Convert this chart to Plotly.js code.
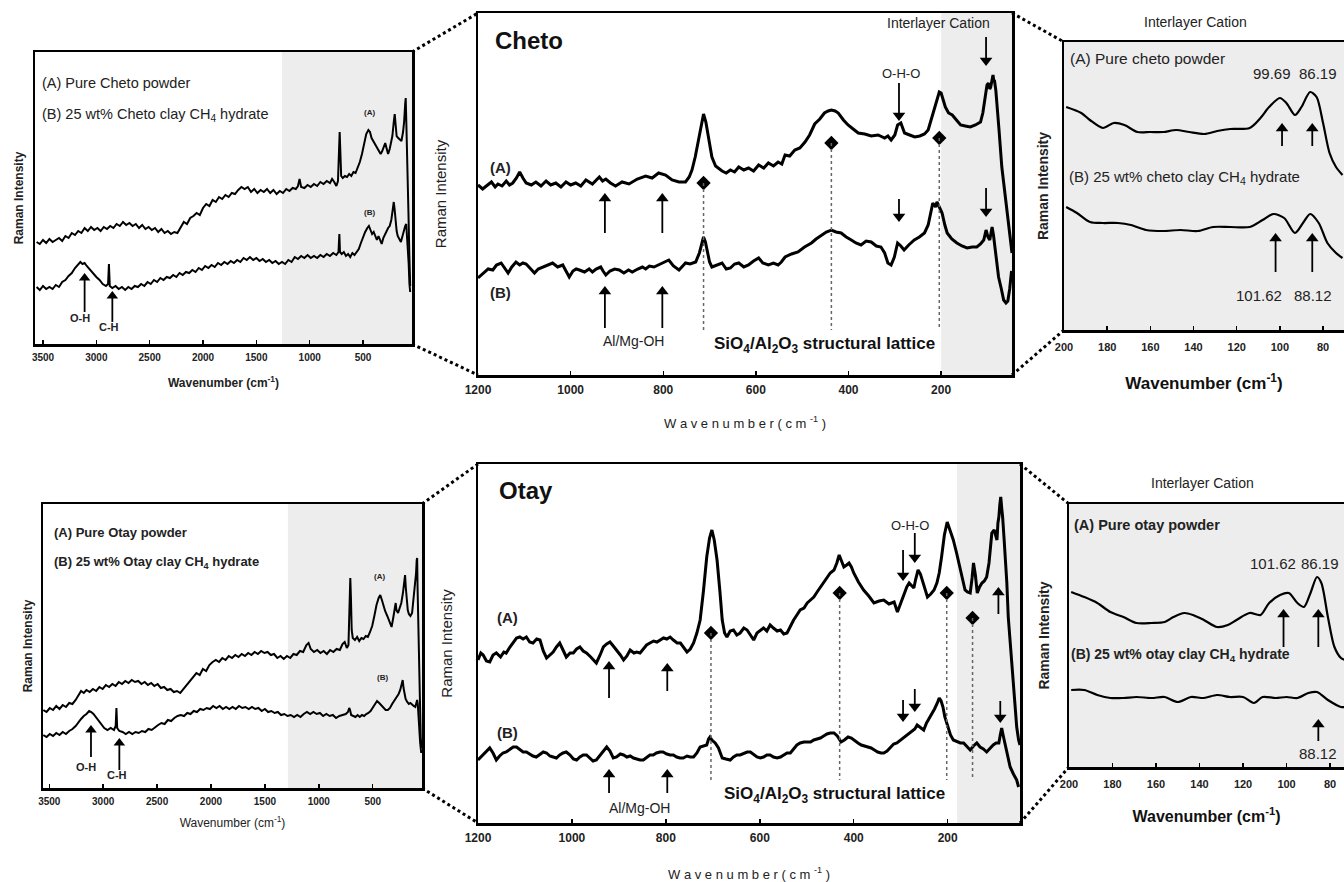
<!DOCTYPE html>
<html><head><meta charset="utf-8">
<script src="https://cdn.plot.ly/plotly-3.0.1.min.js"></script>
<style>html,body{margin:0;padding:0;background:#fff}#chart{width:1344px;height:882px}</style>
</head><body><div id="chart"></div>
<script>
// ================= DATA (wavenumber cm-1 / Raman intensity, arbitrary units) =================
// Panel 1: Cheto full range
const P1_A_X = [3560,3530,3500,3470,3440,3410,3380,3350,3320,3290,3260,3230,3200,3170,3140,3110,3080,3050,3020,2990,2960,2930,2900,2870,2840,2810,2780,2750,2720,2690,2660,2630,2600,2570,2540,2510,2480,2450,2420,2390,2360,2330,2300,2270,2240,2210,2180,2150,2120,2090,2060,2030,2000,1970,1940,1910,1880,1850,1820,1790,1760,1730,1700,1670,1640,1610,1580,1550,1520,1490,1460,1430,1400,1370,1340,1310,1280,1250,1220,1190,1160,1130,1110,1095,1080,1050,1020,990,960,930,900,870,840,810,790,770,750,735,725,719,712,705,690,670,650,630,610,590,570,550,530,510,490,470,450,435,420,400,385,370,350,335,320,305,292,280,265,250,238,225,212,203,195,185,170,155,140,125,115,105,100,95,90,82,74,66,58];
const P1_A_Y = [102,100,104,101,105,102,104,106,103,108,106,111,109,113,111,116,113,117,114,116,113,117,115,118,116,120,118,122,119,121,118,120,116,119,115,117,114,116,112,115,111,113,110,112,111,117,122,120,126,128,131,129,136,140,138,144,142,147,145,149,147,151,150,154,157,155,157,152,155,151,154,152,155,151,154,150,153,151,155,153,156,155,158,165,157,156,159,157,160,158,162,160,163,161,165,162,158,163,185,212,190,168,166,168,167,170,168,172,171,176,182,190,202,210,214,212,206,202,199,197,192,190,193,197,201,196,190,195,203,208,222,230,220,208,206,204,203,212,222,240,246,225,206,180,130,90,58];
const P1_B_X = [3560,3530,3500,3470,3440,3410,3380,3350,3320,3290,3260,3230,3200,3170,3150,3130,3110,3090,3060,3030,3000,2970,2940,2910,2890,2882,2874,2850,2820,2790,2760,2730,2700,2670,2640,2610,2580,2550,2520,2490,2460,2430,2400,2370,2340,2310,2280,2250,2220,2190,2160,2130,2100,2070,2040,2010,1980,1950,1920,1890,1860,1830,1800,1770,1740,1710,1680,1650,1620,1590,1560,1530,1500,1470,1440,1410,1380,1350,1320,1290,1260,1230,1200,1170,1140,1110,1080,1050,1020,990,960,930,900,870,840,810,780,750,730,722,716,700,680,660,640,620,600,580,560,540,520,500,480,460,445,430,415,400,385,370,355,340,325,310,295,280,265,250,235,222,212,205,195,185,175,160,145,130,118,105,95,88,80,72,65,58];
const P1_B_Y = [57,54,58,55,57,55,59,57,62,64,68,71,76,79,82,80,81,78,74,70,67,64,60,58,60,80,58,56,58,55,57,54,57,55,58,57,60,58,62,60,64,62,66,64,67,66,69,67,71,69,72,71,74,72,76,74,78,76,79,77,81,79,82,80,83,81,84,82,86,84,87,84,86,83,85,82,84,81,83,80,82,80,84,82,87,85,88,86,89,86,88,86,89,87,90,88,91,89,92,110,92,90,92,88,90,87,91,89,92,95,101,107,112,116,118,114,110,112,107,104,108,103,100,106,110,114,116,118,124,134,142,136,120,113,108,105,102,108,114,118,120,110,100,80,60,52];

// Panel 2: Cheto 1200-50 cm-1
const P2_A_X = [1200,1190,1182,1171,1163,1157,1148,1139,1132,1125,1117,1110,1103,1096,1085,1075,1064,1053,1043,1032,1021,1010,1000,989,978,967,953,938,931,924,914,903,889,874,856,838,824,810,795,781,766,752,744,738,731,724,718,713,708,702,695,687,680,673,664,655,646,637,626,616,605,594,583,573,562,552,544,537,527,516,505,494,484,473,462,452,444,437,429,422,411,401,390,379,365,351,336,322,315,308,300,294,287,279,268,257,246,236,228,218,210,204,200,196,191,184,176,167,158,148,137,126,115,110,105,101,98,95,93,90,88,86,85,82,80,75,69,63,58,54,50,47];
const P2_A_Y = [190,186,189,193,188,191,189,194,190,192,197,203,197,192,190,193,189,194,190,192,188,193,190,192,189,195,191,198,194,196,192,189,193,191,196,199,197,202,200,195,193,193,198,205,218,236,252,261,253,236,218,209,206,204,202,205,203,208,205,207,204,210,207,212,209,213,211,220,219,225,227,233,240,251,256,262,264,265,264,262,255,250,246,242,241,239,240,237,239,235,240,250,252,242,240,238,239,241,245,262,275,283,282,275,268,262,260,255,250,249,248,250,253,262,280,290,292,286,288,296,300,293,295,285,275,245,208,185,160,145,130,122];
const P2_B_X = [1200,1193,1186,1178,1168,1160,1150,1142,1135,1127,1118,1110,1103,1096,1087,1078,1070,1060,1050,1039,1028,1017,1010,1003,995,988,981,970,960,953,945,935,930,924,915,905,895,885,875,867,855,845,838,830,820,810,800,788,778,766,758,752,742,730,722,716,713,709,705,700,695,685,673,664,655,646,637,626,616,605,594,585,573,562,552,545,537,523,509,495,480,470,458,448,437,427,416,405,394,384,373,362,351,340,330,322,315,308,301,294,287,280,270,258,247,236,228,218,212,209,204,198,192,187,177,166,155,144,133,123,115,108,103,99,95,92,90,87,84,80,76,70,65,60,56,52,48];
const P2_B_Y = [97,100,103,106,105,110,112,106,102,108,113,110,112,111,106,102,106,108,110,112,108,110,104,98,104,106,105,103,106,103,106,108,104,100,104,106,105,102,105,103,106,108,106,109,108,110,112,115,109,105,109,112,111,113,122,134,138,133,125,113,108,110,112,106,107,111,112,108,110,114,117,112,110,112,110,113,118,121,123,128,132,136,140,143,145,143,142,138,135,132,130,134,133,129,128,122,112,110,118,132,129,125,130,135,138,142,150,172,168,173,168,162,150,142,136,132,129,127,128,128,131,135,145,138,135,142,148,140,128,112,98,86,75,72,74,86,104];
const P2_DIAMOND_X = [713,437,204];
const P2_DIAMOND_Y = [192,232,237];

// Panel 3: Cheto interlayer cation region
const P3_A_X = [199,192,188,182,177,172,166,160,154,148,142,135,129,123,114,109,105,100,97,93,90,86,83,80,77,74,71];
const P3_A_Y = [223,217,210,202,207,205,198,198,198,200,198,196,199,201,202,212,223,232,227,215,223,238,233,207,177,163,155];
const P3_B_X = [199,194,188,182,175,169,162,154,146,138,131,123,114,108,103,98,93,89,86,82,78,74,71];
const P3_B_Y = [123,117,108,107,107,105,100,99,100,99,103,103,103,110,116,112,97,108,116,107,87,77,72];

// Panel 4: Otay full range
const P4_A_X = [3555,3525,3495,3465,3435,3405,3375,3345,3315,3285,3255,3230,3205,3180,3155,3125,3095,3065,3035,3005,2975,2945,2915,2885,2855,2825,2795,2765,2735,2705,2675,2645,2615,2585,2555,2525,2495,2465,2435,2405,2375,2345,2315,2285,2255,2225,2195,2165,2135,2105,2075,2045,2015,1985,1955,1925,1895,1865,1835,1805,1775,1745,1715,1685,1655,1625,1595,1565,1535,1505,1475,1445,1415,1385,1355,1325,1295,1265,1235,1205,1175,1145,1115,1095,1075,1045,1015,985,955,925,895,865,835,805,780,760,740,725,715,708,702,695,685,665,645,625,605,585,565,545,525,505,485,465,445,430,415,400,385,365,345,325,310,295,287,280,265,250,235,220,208,200,193,185,175,165,150,135,120,105,98,92,88,84,78,70,62,55,48];
const P4_A_Y = [78,76,80,78,82,79,83,81,85,84,88,92,97,95,98,96,99,97,101,99,103,101,104,102,106,104,107,105,108,106,107,104,106,103,105,102,104,100,101,98,99,96,97,95,99,104,108,111,115,113,119,117,123,126,128,126,130,128,132,130,133,131,134,132,135,133,136,134,137,135,136,133,134,130,132,129,132,130,134,133,137,136,143,145,139,136,138,135,137,134,138,136,139,138,144,146,140,143,180,210,190,158,150,148,151,147,150,149,152,151,156,162,172,183,190,193,188,182,177,172,166,161,170,182,185,178,175,180,185,195,208,213,200,186,178,174,172,175,190,205,215,228,230,200,160,120,80,51,40];
const P4_B_X = [3555,3525,3495,3465,3435,3405,3375,3345,3315,3285,3255,3230,3205,3180,3155,3130,3110,3090,3070,3050,3030,3010,2990,2960,2930,2900,2884,2877,2870,2850,2820,2790,2760,2730,2700,2670,2640,2610,2580,2550,2520,2490,2460,2430,2400,2370,2340,2310,2280,2250,2220,2190,2160,2130,2100,2070,2040,2010,1980,1950,1920,1890,1860,1830,1800,1770,1740,1710,1680,1650,1620,1590,1560,1530,1500,1470,1440,1410,1380,1350,1320,1290,1260,1230,1200,1170,1140,1110,1080,1050,1020,990,960,930,900,870,840,810,780,750,730,718,710,700,680,660,640,620,600,580,560,540,520,500,480,460,440,420,400,380,360,340,320,300,280,260,245,232,222,214,205,195,180,165,150,135,120,105,95,88,82,75,68,60,50];
const P4_B_Y = [53,51,54,52,55,53,56,54,57,59,62,66,69,72,74,77,76,74,71,69,65,62,60,58,60,58,62,80,60,57,56,54,56,54,56,55,57,56,59,58,61,63,65,64,68,67,70,72,73,72,75,74,77,76,79,78,80,79,82,80,82,79,81,79,81,79,82,80,81,79,81,79,80,77,79,76,77,75,76,73,74,72,73,71,73,71,74,76,74,76,74,75,72,74,72,73,70,72,73,74,76,80,78,73,72,71,73,71,73,72,74,75,77,80,84,87,85,83,80,78,78,80,84,87,90,94,98,104,108,100,92,89,86,84,85,83,82,81,84,88,84,66,55,45,35];

// Panel 5: Otay 1200-50 cm-1
const P5_A_X = [1200,1194,1189,1182,1175,1168,1161,1152,1145,1140,1132,1125,1118,1111,1104,1097,1090,1083,1075,1068,1061,1054,1047,1040,1033,1026,1019,1012,1004,997,990,983,976,969,960,948,940,933,926,919,912,905,897,890,883,876,868,862,855,848,841,834,826,819,812,805,798,791,784,776,769,762,755,748,741,734,727,720,713,707,702,697,691,685,680,675,670,663,656,649,642,634,627,620,613,606,599,592,585,578,571,563,556,549,542,535,528,521,514,506,499,492,485,478,471,464,457,450,442,436,431,426,421,415,410,405,400,390,379,368,357,346,336,325,314,307,300,293,287,282,277,272,268,263,258,254,248,243,236,229,223,218,213,207,201,195,188,181,174,168,163,158,152,148,145,141,137,132,127,122,117,112,106,101,98,95,93,91,89,87,85,83,80,78,74,71,65,60,56,53,49,46];
const P5_A_Y = [163,170,168,162,161,168,170,166,171,170,176,180,185,186,184,186,181,180,184,183,172,165,168,171,176,180,173,166,170,170,174,176,172,170,166,160,168,176,179,181,177,173,168,163,167,173,170,171,170,174,178,180,182,181,183,185,184,186,183,180,180,176,171,174,180,190,203,232,266,285,293,283,263,232,203,190,186,192,193,188,190,195,193,188,183,190,193,195,192,198,195,192,193,189,190,197,203,208,213,215,220,223,226,231,236,240,246,250,253,260,268,262,256,258,260,256,250,241,233,227,220,222,223,219,221,211,220,230,236,240,237,235,244,253,249,243,235,226,229,233,240,250,266,288,301,293,283,270,256,243,233,231,230,245,260,248,230,236,240,242,246,260,290,293,288,283,300,306,318,326,315,306,285,273,240,206,170,140,115,96,83,78];
const P5_B_X = [1200,1194,1189,1182,1175,1168,1161,1154,1147,1140,1132,1125,1118,1111,1104,1097,1090,1083,1076,1068,1061,1054,1047,1040,1033,1026,1019,1012,1004,997,990,983,976,969,962,955,948,940,933,926,919,912,905,897,890,883,876,869,862,855,848,841,834,827,820,813,806,798,791,784,777,770,763,755,748,741,734,727,720,713,709,706,702,695,688,680,672,663,656,649,642,634,627,620,613,606,599,592,585,578,571,563,556,549,542,535,528,521,514,506,499,492,485,478,471,464,457,450,442,435,427,420,412,405,398,391,384,377,370,363,356,349,342,336,329,322,315,308,300,293,287,282,277,270,265,258,251,245,240,234,228,222,218,214,210,206,200,194,188,180,173,166,159,152,145,138,131,124,117,110,103,97,91,88,85,82,78,73,67,60,53,49];
const P5_B_Y = [63,66,68,72,75,70,63,67,70,71,74,76,76,73,71,71,69,67,66,69,71,70,67,66,65,68,70,71,68,64,63,66,68,68,65,62,63,68,72,76,72,65,66,69,68,66,67,65,64,63,63,66,68,68,70,71,71,69,68,68,66,65,65,67,66,66,70,76,77,78,84,86,83,80,75,65,64,63,66,68,68,70,71,71,68,66,65,66,68,68,66,65,66,68,70,70,74,78,80,81,81,81,83,84,85,87,89,90,90,87,81,83,86,85,82,80,78,77,76,75,73,71,70,70,72,76,79,80,83,86,88,90,92,94,98,95,93,100,104,110,114,120,125,122,116,106,96,88,83,81,80,80,76,73,77,80,76,74,71,75,78,80,80,88,95,88,80,68,56,49,43,36];
const P5_DIAMOND_X = [704,430,202,147];
const P5_DIAMOND_Y = [190,230,230,205];

// Panel 6: Otay interlayer cation region
const P6_A_X = [199,193,187,181,175,169,162,156,152,147,143,138,132,127,123,117,112,108,103,99,95,92,89,86,84,81,78,75,73];
const P6_A_Y = [175,170,164,155,150,144,144,145,150,154,152,147,140,142,147,154,152,164,172,174,164,160,174,190,184,150,120,109,107];
const P6_B_X = [199,193,187,181,175,169,162,156,150,144,138,132,126,120,115,111,105,100,95,90,86,81,75,73];
const P6_B_Y = [77,77,72,69,69,70,69,70,65,70,69,72,70,70,64,70,69,70,69,74,75,67,60,60];

// Tick labels
const WIDE_TICKS = [3500,3000,2500,2000,1500,1000,500];
const MID_TICKS = [1200,1000,800,600,400,200];
const NARROW_TICKS = [200,180,160,140,120,100,80];

// Arrow positions (wavenumber, tail intensity, head-tip intensity)
const P1_ARROWS = {x:[3110,2850], tail:[32,22], head:[71,53]};
const P4_ARROWS = {x:[3113,2850], tail:[31,18], head:[63,50]};
const P2_ARROWS = {x:[926,802,926,802,291,291,103,103], tail:[142,142,47,47,292,176,338,187], head:[182,182,89,89,254,153,309,158]};
const P5_ARROWS = {x:[921,797,921,797,295,270,295,270,92,88], tail:[125,132,30,30,273,290,123,134,209,122], head:[162,160,54,54,242,260,101,111,236,100]};
const P3_ARROWS = {x:[99,85,102,85], tail:[184,184,58,58], head:[207,207,97,97]};
const P6_ARROWS = {x:[101.4,85.4,85.4], tail:[120,120,26], head:[158,158,48]};

// ================= LAYOUT =================
const W = 1344, H = 882;
const FONT = 'Liberation Sans, Arial, sans-serif';
const px = x => x / W, py = y => 1 - y / H;
// boxes: [left, top, right, bottom] in page pixels (1 intensity unit = 1 px)
const B1 = [35,52,412,344], B2 = [478,13,1012,375], B3 = [1064,42,1344,330];
const B4 = [43,504,422,788], B5 = [478,464,1020,823], B6 = [1069,504,1344,767];

function xAxis(b, range, ticks, yid, tfont, title, mirror, tls) {
  return {domain:[px(b[0]), px(b[2])], range:range, anchor:yid, showline:true, mirror:mirror,
    linewidth:2.5, linecolor:'#000', ticks:'inside', ticklen:4, tickwidth:1.5, tickcolor:'#000',
    tickmode:'array', tickvals:ticks, tickfont:tfont, ticklabelstandoff:tls||0,
    showgrid:false, zeroline:false, fixedrange:true, title:title};
}
function yAxis(b, xid, title, mirror) {
  return {domain:[py(b[3]), py(b[1])], range:[0, b[3]-b[1]], anchor:xid, showline:true, mirror:mirror,
    linewidth:2.5, linecolor:'#000', ticks:'', showticklabels:false, showgrid:false, zeroline:false,
    fixedrange:true, title:title};
}
const boldTick = s => ({family:FONT, size:s, color:'#222', weight:'bold'});

const layout = {
  width:W, height:H, margin:{l:0,r:0,t:0,b:0}, paper_bgcolor:'#fff', plot_bgcolor:'rgba(0,0,0,0)',
  showlegend:false, font:{family:FONT, color:'#222'},
  xaxis: xAxis(B1,[3575,41],WIDE_TICKS,'y',boldTick(10),{text:'Wavenumber (cm<sup>-1</sup>)',font:{family:FONT,size:12,weight:'bold',color:'#222'},standoff:17},true,2),
  yaxis: yAxis(B1,'x',{text:'Raman Intensity',font:{family:FONT,size:12,weight:'bold',color:'#222'},standoff:7},true),
  xaxis2: xAxis(B2,[1200,47],MID_TICKS,'y2',boldTick(12),{text:'W a v e n u m b e r ( c m <sup>-1</sup> )',font:{family:FONT,size:13,color:'#222'},standoff:23},true,2),
  yaxis2: yAxis(B2,'x2',{text:'Raman Intensity',font:{family:FONT,size:15,color:'#222'},standoff:26},true),
  xaxis3: xAxis(B3,[200,70.3],NARROW_TICKS,'y3',boldTick(11),{text:'Wavenumber (cm<sup>-1</sup>)',font:{family:FONT,size:17,weight:'bold',color:'#111'},standoff:26},true,5),
  yaxis3: yAxis(B3,'x3',{text:'Raman Intensity',font:{family:FONT,size:14,weight:'bold',color:'#222'},standoff:10},false),
  xaxis4: xAxis(B4,[3558,43],WIDE_TICKS,'y4',boldTick(10),{text:'Wavenumber (cm<sup>-1</sup>)',font:{family:FONT,size:12,color:'#222'},standoff:13},true,2),
  yaxis4: yAxis(B4,'x4',{text:'Raman Intensity',font:{family:FONT,size:12,weight:'bold',color:'#222'},standoff:6},true),
  xaxis5: xAxis(B5,[1200,46],MID_TICKS,'y5',boldTick(12),{text:'W a v e n u m b e r ( c m <sup>-1</sup> )',font:{family:FONT,size:13,color:'#222'},standoff:26},true,2),
  yaxis5: yAxis(B5,'x5',{text:'Raman Intensity',font:{family:FONT,size:15,color:'#222'},standoff:20},true),
  xaxis6: xAxis(B6,[200,73.6],NARROW_TICKS,'y6',boldTick(11),{text:'Wavenumber (cm<sup>-1</sup>)',font:{family:FONT,size:16,weight:'bold',color:'#111'},standoff:22},true,5),
  yaxis6: yAxis(B6,'x6',{text:'Raman Intensity',font:{family:FONT,size:14,weight:'bold',color:'#222'},standoff:14},false),
  shapes:[], annotations:[]
};

// gray shading of the interlayer-cation regions
const SHADE = '#ededed';
layout.shapes.push({type:'rect',xref:'x',yref:'y domain',x0:1260,x1:41,y0:0,y1:1,fillcolor:SHADE,line:{width:0},layer:'below'});
layout.shapes.push({type:'rect',xref:'x4',yref:'y4 domain',x0:1287,x1:43,y0:0,y1:1,fillcolor:SHADE,line:{width:0},layer:'below'});
layout.shapes.push({type:'rect',xref:'x2',yref:'y2 domain',x0:200,x1:47,y0:0,y1:1,fillcolor:SHADE,line:{width:0},layer:'below'});
layout.shapes.push({type:'rect',xref:'x5',yref:'y5 domain',x0:180,x1:46,y0:0,y1:1,fillcolor:SHADE,line:{width:0},layer:'below'});
layout.shapes.push({type:'rect',xref:'x3 domain',yref:'y3 domain',x0:0,x1:1,y0:0,y1:1,fillcolor:SHADE,line:{width:0},layer:'below'});
layout.shapes.push({type:'rect',xref:'x6 domain',yref:'y6 domain',x0:0,x1:1,y0:0,y1:1,fillcolor:SHADE,line:{width:0},layer:'below'});

// dotted zoom connectors
function conn(x0,y0,x1,y1){layout.shapes.push({type:'line',xref:'paper',yref:'paper',x0:px(x0),y0:py(y0),x1:px(x1),y1:py(y1),line:{color:'#000',width:3,dash:'dot'}});}
conn(412,52,478,13); conn(412,344,478,375); conn(1012,13,1064,42); conn(1012,375,1064,330);
conn(422,504,478,464); conn(422,788,478,823); conn(1020,464,1069,504); conn(1020,823,1069,767);

// dotted drop lines below diamonds
P2_DIAMOND_X.forEach((x,i)=>layout.shapes.push({type:'line',xref:'x2',yref:'y2',x0:x,x1:x,y0:P2_DIAMOND_Y[i],y1:45,line:{color:'#666',width:1.5,dash:'dot'}}));
P5_DIAMOND_X.forEach((x,i)=>layout.shapes.push({type:'line',xref:'x5',yref:'y5',x0:x,x1:x,y0:P5_DIAMOND_Y[i],y1:43,line:{color:'#666',width:1.5,dash:'dot'}}));

// text labels (page-pixel positions)
function txt(t,x,y,size,opts){const o=opts||{};layout.annotations.push({xref:'paper',yref:'paper',x:px(x),y:py(y),
  text:t,showarrow:false,xanchor:o.xa||'center',yanchor:'middle',
  font:{family:FONT,size:size,color:o.c||'#222',weight:o.w||'normal'}});}
// panel 1
txt('(A) Pure Cheto powder',40,83,14.5,{xa:'left'});
txt('(B) 25 wt% Cheto clay CH<sub>4</sub> hydrate',40,115,14.5,{xa:'left'});
txt('(A)',369,112,8,{w:'bold'}); txt('(B)',369,213,8,{w:'bold'});
txt('O-H',80,318,11,{w:'bold'}); txt('C-H',109,327,11,{w:'bold'});
// panel 2
txt('Cheto',493,40,24,{xa:'left',w:'bold',c:'#111'});
txt('(A)',488,167,15,{xa:'left',w:'bold'}); txt('(B)',488,293,15,{xa:'left',w:'bold'});
txt('O-H-O',901,73,13); txt('Interlayer Cation',938,23,14);
txt('Al/Mg-OH',633,341,14);
txt('SiO<sub>4</sub>/Al<sub>2</sub>O<sub>3</sub> structural lattice',824,345,17,{w:'bold',c:'#111'});
// panel 3
txt('Interlayer Cation',1195,22,14);
txt('(A) Pure cheto powder',1068,58,15.5,{xa:'left'});
txt('99.69',1272,73,15); txt('86.19',1318,73,15);
txt('(B) 25 wt% cheto clay CH<sub>4</sub> hydrate',1067,178,15,{xa:'left'});
txt('101.62',1259,295,15); txt('88.12',1313,295,15);
// panel 4
txt('(A) Pure Otay powder',52,532,13,{xa:'left',w:'bold'});
txt('(B) 25 wt% Otay clay CH<sub>4</sub> hydrate',52,562,13,{xa:'left',w:'bold'});
txt('(A)',379,576,8,{w:'bold'}); txt('(B)',382,677,8,{w:'bold'});
txt('O-H',86,767,11,{w:'bold'}); txt('C-H',117,775,11,{w:'bold'});
// panel 5
txt('Otay',497,490,24,{xa:'left',w:'bold',c:'#111'});
txt('(A)',495,617,15,{xa:'left',w:'bold'}); txt('(B)',495,732,15,{xa:'left',w:'bold'});
txt('O-H-O',910,525,13);
txt('Al/Mg-OH',639,808,14);
txt('SiO<sub>4</sub>/Al<sub>2</sub>O<sub>3</sub> structural lattice',722,795,17,{xa:'left',w:'bold',c:'#111'});
// panel 6
txt('Interlayer Cation',1202,483,14);
txt('(A) Pure otay powder',1072,525,14.5,{xa:'left',w:'bold'});
txt('101.62',1273,563,15); txt('86.19',1320,563,15);
txt('(B) 25 wt% otay clay CH<sub>4</sub> hydrate',1069,655,14,{xa:'left',w:'bold'});
txt('88.12',1318,753,15);

// ================= TRACES =================
const line = (x,y,xa,ya,w,shape) => ({type:'scatter',mode:'lines',x:x,y:y,xaxis:xa,yaxis:ya,
  line:{color:'#000',width:w,shape:shape||'linear',smoothing:0.8},hoverinfo:'skip'});
const data = [
  line(P1_A_X,P1_A_Y,'x','y',2), line(P1_B_X,P1_B_Y,'x','y',2),
  line(P2_A_X,P2_A_Y,'x2','y2',3), line(P2_B_X,P2_B_Y,'x2','y2',3),
  line(P3_A_X,P3_A_Y,'x3','y3',2.2,'spline'), line(P3_B_X,P3_B_Y,'x3','y3',2.2,'spline'),
  line(P4_A_X,P4_A_Y,'x4','y4',2), line(P4_B_X,P4_B_Y,'x4','y4',2),
  line(P5_A_X,P5_A_Y,'x5','y5',3), line(P5_B_X,P5_B_Y,'x5','y5',3),
  line(P6_A_X,P6_A_Y,'x6','y6',2.2,'spline'), line(P6_B_X,P6_B_Y,'x6','y6',2.2,'spline'),
  {type:'scatter',mode:'markers',x:P2_DIAMOND_X,y:P2_DIAMOND_Y,xaxis:'x2',yaxis:'y2',marker:{symbol:'diamond',size:11,color:'#000'},hoverinfo:'skip'},
  {type:'scatter',mode:'markers',x:P5_DIAMOND_X,y:P5_DIAMOND_Y,xaxis:'x5',yaxis:'y5',marker:{symbol:'diamond',size:11,color:'#000'},hoverinfo:'skip'}
];

// arrows: shaft (line trace) + triangular head (marker trace); intensity units equal pixels
function arrowTraces(A, n, headSize) {
  const xa = 'x'+n, ya = 'y'+n, half = headSize*0.5;
  const sx = [], sy = [], hx = [], hy = [], hs = [];
  A.x.forEach((x,i)=>{
    const up = A.head[i] > A.tail[i];
    const c = up ? A.head[i]-half : A.head[i]+half;
    sx.push(x,x,null); sy.push(A.tail[i], c, null);
    hx.push(x); hy.push(c); hs.push(up ? 'triangle-up' : 'triangle-down');
  });
  data.push({type:'scatter',mode:'lines',x:sx,y:sy,xaxis:xa,yaxis:ya,line:{color:'#000',width:1.8},hoverinfo:'skip'});
  data.push({type:'scatter',mode:'markers',x:hx,y:hy,xaxis:xa,yaxis:ya,marker:{symbol:hs,size:headSize,color:'#000',line:{width:0}},hoverinfo:'skip'});
}
arrowTraces(P1_ARROWS,'',10); arrowTraces(P4_ARROWS,4,10);
arrowTraces(P2_ARROWS,2,11); arrowTraces(P5_ARROWS,5,11);
arrowTraces(P3_ARROWS,3,11); arrowTraces(P6_ARROWS,6,11);

Plotly.newPlot('chart', data, layout, {staticPlot:true, displayModeBar:false});
</script></body></html>
